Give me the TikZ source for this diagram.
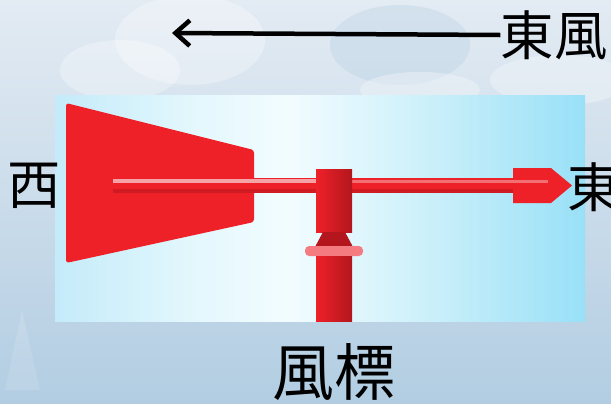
\documentclass[tikz,border=0pt]{standalone}
\usepackage{fontspec}
\newfontfamily\cjk{Noto Sans CJK TC}
\usepackage{xcolor}
\usetikzlibrary{arrows.meta, positioning}
\definecolor{skytop}{HTML}{E3EBF3}
\definecolor{skybot}{HTML}{B2CDE2}
\definecolor{vane}{HTML}{EE2129}
\definecolor{vanedk}{HTML}{B3161D}
\definecolor{vanelt}{HTML}{F6A3A7}
\pgfdeclarehorizontalshading{panelsky}{100bp}{
    rgb(0bp)=(0.77,0.92,0.98); rgb(25bp)=(0.77,0.92,0.98);
    rgb(38bp)=(0.89,0.97,0.99); rgb(47bp)=(0.95,0.99,1.0);
    rgb(60bp)=(0.80,0.94,0.98); rgb(75bp)=(0.60,0.88,0.97);
    rgb(100bp)=(0.60,0.88,0.97)}
\tikzset{
    lbl/.style={font=\cjk\fontsize{38}{40}\selectfont, inner sep=0pt},
    big/.style={font=\cjk\fontsize{44}{48}\selectfont, inner sep=0pt},
    wind/.style={-{Straight Barb[length=3.6mm, width=6.4mm, line width=3.2pt]}, line width=3.2pt, black},
    part/.style={fill=vane, draw=none},
    puff/.style={fill=white, opacity=0.3},
}

\begin{document}
\begin{tikzpicture}[x=0.025cm, y=-0.025cm]
    \useasboundingbox (0,0) rectangle (611,403);
    % sky and clouds
    \shade[top color=skytop, bottom color=skybot] (0,0) rectangle (611,403);
    \fill[puff] (190,40) ellipse (75 and 45);
    \fill[puff] (120,70) ellipse (60 and 30);
    \fill[skybot, opacity=0.3] (400,45) ellipse (70 and 40);
    \fill[puff] (560,80) ellipse (70 and 25);
    \fill[puff] (420,90) ellipse (60 and 18);
    \fill[white, opacity=0.12] (22,310) -- (40,390) -- (5,390) -- cycle;

    % picture panel
    \shade[shading=panelsky] (55,95) rectangle (585,321);

    % tail fin and rod
    \fill[part, rounded corners=2pt] (66,103) -- (254,150) -- (254,222) -- (66,263) -- cycle;
    \fill[part] (113,178) rectangle (520,193);
    \fill[vanelt] (113,179) rectangle (316,183);
    \fill[vanedk, opacity=0.5] (113,189) rectangle (516,193);
    % arrow head
    \fill[part] (513,168) -- (551,168) -- (572,185.5) -- (551,203) -- (513,203) -- cycle;
    \fill[vanelt, opacity=0.6] (352,180) rectangle (548,183);

    % hub, collar and pole
    \shade[left color=vane, middle color=vane, right color=vanedk] (316,169) rectangle (352,232);
    \fill[vanedk] (323,232) -- (345,232) -- (353,247) -- (315,247) -- cycle;
    \fill[vanelt!70!vane, rounded corners=3pt] (305,246) rectangle (363,256);
    \shade[left color=vane, middle color=vane, right color=vanedk] (316,256) rectangle (352,321);

    % labels
    \node[lbl] (west) at (34,186) {西};
    \node[lbl] (east) at (594,187) {東};
    \node[lbl] (eastwind) at (554,35) {東風};
    \node[big] (vanename) at (334,372) {風標};
    \coordinate (windtip) at (172,33);
    \draw[wind] (eastwind.west) -- (windtip);
\end{tikzpicture}
\end{document}
